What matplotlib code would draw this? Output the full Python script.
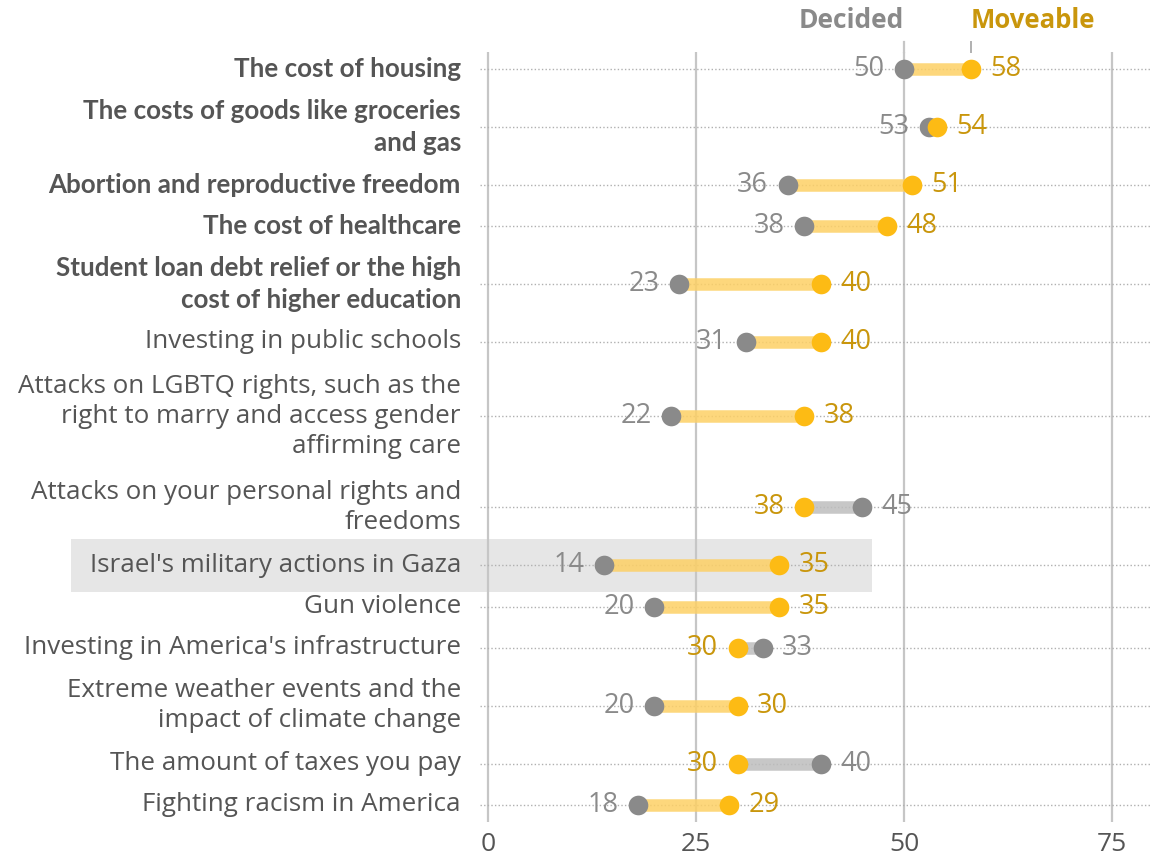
import matplotlib
matplotlib.use('Agg')
import numpy as np
import matplotlib.pyplot as plt
from matplotlib.patches import Rectangle

plt.rcParams['font.family'] = ['Open Sans', 'DejaVu Sans']

categories = [
    'The cost of housing',
    'The costs of goods like groceries\nand gas',
    'Abortion and reproductive freedom',
    'The cost of healthcare',
    'Student loan debt relief or the high\ncost of higher education',
    'Investing in public schools',
    'Attacks on LGBTQ rights, such as the\nright to marry and access gender\naffirming care',
    'Attacks on your personal rights and\nfreedoms',
    "Israel's military actions in Gaza",
    'Gun violence',
    "Investing in America's infrastructure",
    'Extreme weather events and the\nimpact of climate change',
    'The amount of taxes you pay',
    'Fighting racism in America',
]
decided = [50, 53, 36, 38, 23, 31, 22, 45, 14, 20, 33, 20, 40, 18]
moveable = [58, 54, 51, 48, 40, 40, 38, 38, 35, 35, 30, 30, 30, 29]
bold_rows = 5
highlight = "Israel's military actions in Gaza"

GRAY_DOT = '#8a8a8a'
GOLD_DOT = '#fdbb14'
GRAY_TXT = '#8a8a8a'
GOLD_TXT = '#c9960c'
LABEL_TXT = '#555555'

# row layout: each text line is 33px tall, plus 8px padding per row
LINE_PX, PAD_PX = 33, 8
n_lines = np.array([c.count('\n') + 1 for c in categories])
gaps = (n_lines[:-1] + n_lines[1:]) / 2 * LINE_PX + PAD_PX
ypos = np.concatenate([[0], np.cumsum(gaps)])

fig = plt.figure(figsize=(11.52, 8.63), dpi=100)
W, H = 1152, 863
ax = fig.add_axes([480 / W, 1 - 822 / H, 672 / W, 770 / H])
ax.set_xlim(-8 / 8.32, (1152 - 488) / 8.32)
ax.set_ylim(ypos[-1] + 17, -17)

for s in ax.spines.values():
    s.set_visible(False)
ax.set_yticks([])
ax.set_xticks([0, 25, 50, 75])
ax.tick_params(axis='x', length=0, pad=7, labelsize=19, labelcolor=LABEL_TXT)

# vertical reference lines
ax.vlines([0, 25, 50, 75], -17, ypos[-1] + 17, color='#c6c6c6', lw=1.6, zorder=1)

# dotted row guides
ax.hlines(ypos, -8 / 8.32, 80, color='#b0b0b0', lw=1.0,
          linestyles=(0, (1, 1.6)), zorder=2)

for i, (cat, d, m, y) in enumerate(zip(categories, decided, moveable, ypos)):
    up = m > d
    bar_col = '#fdd065' if up else '#bdbdbd'
    ax.plot([d, m], [y, y], color=bar_col, lw=9, alpha=0.85,
            solid_capstyle='butt', zorder=3)
    ax.scatter([d], [y], s=200, color=GRAY_DOT, zorder=4, linewidths=0)
    ax.scatter([m], [y], s=200, color=GOLD_DOT, zorder=5, linewidths=0)

    off = 14
    sd, sm = (-off, off) if up else (off, -off)
    ax.annotate(str(d), (d, y), xytext=(sd, 0), textcoords='offset points',
                ha='right' if up else 'left', va='center', fontsize=19.5,
                color=GRAY_TXT)
    ax.annotate(str(m), (m, y), xytext=(sm, 0), textcoords='offset points',
                ha='left' if up else 'right', va='center', fontsize=19.5,
                color=GOLD_TXT)

    if i < bold_rows:
        style = dict(family=['Lato', 'DejaVu Sans'], fontweight='bold',
                     linespacing=1.41)
    else:
        style = dict(fontweight='normal', linespacing=1.26)
    ax.annotate(cat, (0, y), xytext=(-19.5, 0), textcoords='offset points',
                ha='right', va='center', fontsize=18.7, color=LABEL_TXT,
                annotation_clip=False, **style)

    if cat == highlight:
        ax.add_patch(Rectangle((-(488 - 71) / 8.32, y - 26), (872 - 71) / 8.32, 52,
                               facecolor='#e6e6e6', edgecolor='none',
                               zorder=0, clip_on=False))

# series key above the first row
d0, m0 = decided[0], moveable[0]
ax.plot([m0, m0], [-27, -17], color='#b0b0b0', lw=1.4, clip_on=False)
ax.plot([d0, d0], [-27, -17], color='#c6c6c6', lw=1.6, clip_on=False)
ax.text(d0, -48, 'Decided', ha='right', va='center', fontsize=19,
        fontweight='bold', color=GRAY_TXT)
ax.text(m0, -48, 'Moveable', ha='left', va='center', fontsize=18.5,
        fontweight='bold', color=GOLD_TXT)

fig.savefig('out.png', dpi=100)
